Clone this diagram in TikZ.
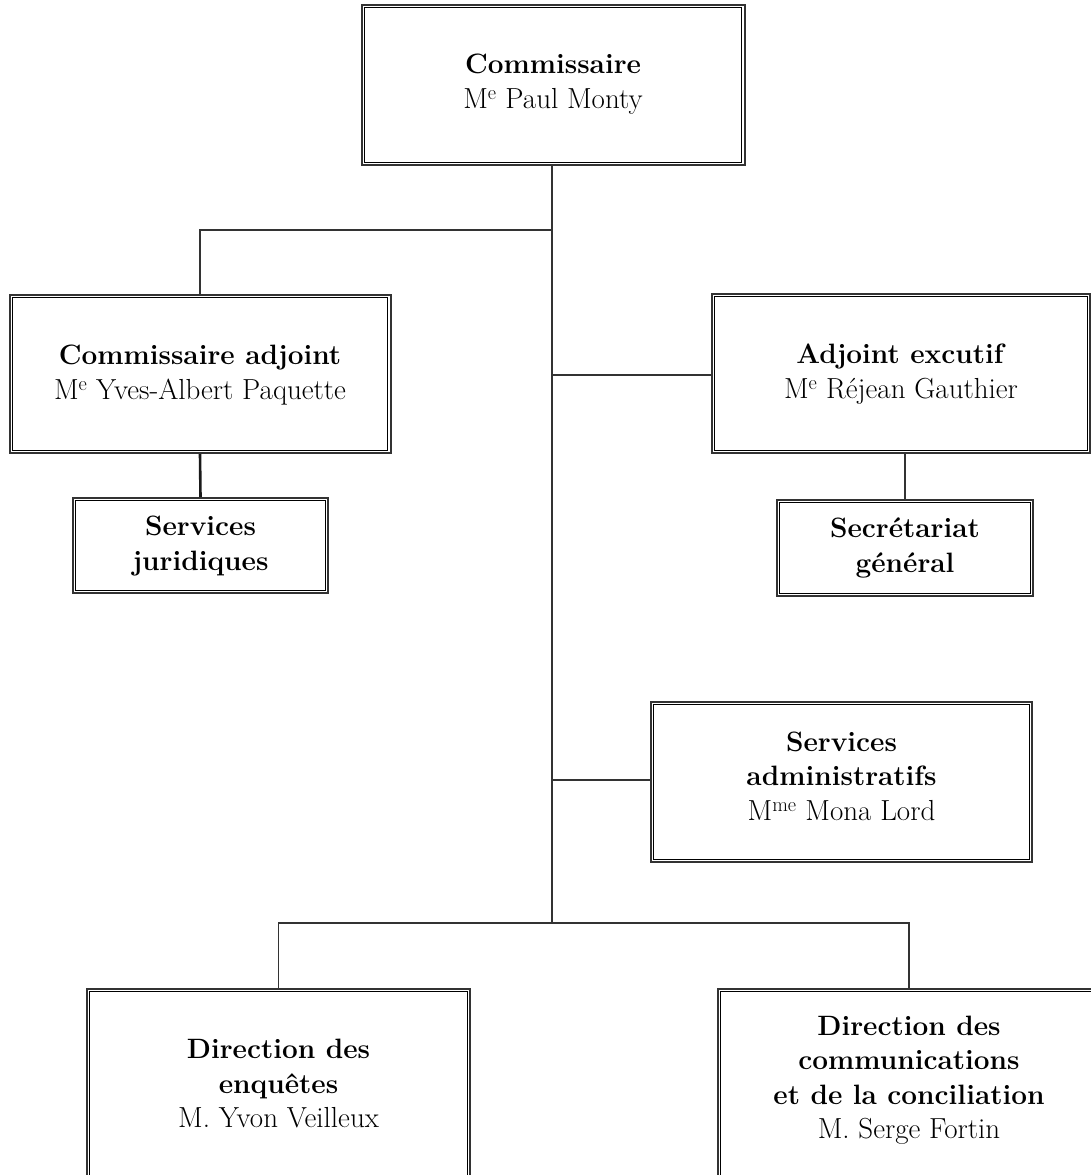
\documentclass[tikz,border=0pt]{standalone}
\usetikzlibrary{calc}
\tikzset{
  box/.style={draw=black!80, line width=2pt, inner sep=0pt, rectangle},
  innerbox/.style={draw=black, line width=0.9pt},
  txt/.style={align=center, inner sep=0pt, font=\fontsize{28}{34.5}\selectfont},
  conn/.style={draw=black!80, line width=1.3pt},
  thickconn/.style={draw=black!90, line width=2.6pt}
}
\newcommand{\rg}[1]{{\fontsize{29}{34.5}\selectfont #1}}
\begin{document}
\begin{tikzpicture}[x=1pt, y=-1pt]
\useasboundingbox (0,0) rectangle (1091,1175);
\fill[white] (0,0) rectangle (1091,1175);
\clip (0,0) rectangle (1091,1175);

% junction coordinates on the trunk
\coordinate (jA) at (552,230);
\coordinate (jB) at (552,375);
\coordinate (jC) at (552,780);
\coordinate (jD) at (552,923);

% boxes
\node[box, minimum width=383pt, minimum height=160pt] (top)  at (553,85) {};
\node[box, minimum width=381pt, minimum height=158pt] (adj)  at (200,374) {};
\node[box, minimum width=255pt, minimum height=95pt]  (jur)  at (200.5,545.5) {};
\node[box, minimum width=378pt, minimum height=159pt] (exec) at (901,373.5) {};
\node[box, minimum width=256pt, minimum height=96pt]  (sec)  at (905,548) {};
\node[box, minimum width=381pt, minimum height=160pt] (adm)  at (841.5,782) {};
\node[box, minimum width=383pt, minimum height=210pt] (enq)  at (278.5,1094) {};
\node[box, minimum width=382pt, minimum height=210pt] (comm) at (909,1094) {};

% inner lines of the double borders
\foreach \b in {top,adj,jur,exec,sec,adm,enq,comm}{
  \draw[innerbox] ([shift={(3.6pt,-3.6pt)}]\b.north west) rectangle ([shift={(-3.6pt,3.6pt)}]\b.south east);
}

% connectors
\draw[conn] (top.south -| jA) -- (jD);
\draw[conn] (jA) -| (adj.north);
\draw[conn] (jB) -- (jB -| exec.west);
\draw[conn] (jC) -- (jC -| adm.west);
\draw[conn] (jD) -| (enq.north);
\draw[conn] (jD) -| (comm.north);
\draw[thickconn] (adj.south) -- (jur.north);
\draw[conn] (sec.north) -- (sec.north |- exec.south);

% texts
\node[txt] (topT)  at (553,84)  {\textbf{Commissaire}\\\rg{M\textsuperscript{e} Paul Monty}};
\node[txt] (adjT)  at (200,375) {\textbf{Commissaire adjoint}\\\rg{M\textsuperscript{e} Yves-Albert Paquette}};
\node[txt] (jurT)  at (200.5,546) {\textbf{Services}\\\textbf{juridiques}};
\node[txt] (execT) at (901,374) {\textbf{Adjoint excutif}\\\rg{M\textsuperscript{e} Réjean Gauthier}};
\node[txt] (secT)  at (905,548) {\textbf{Secrétariat}\\\textbf{général}};
\node[txt] (admT)  at (841.5,776) {\textbf{Services}\\\textbf{administratifs}\\\rg{M\textsuperscript{me} Mona Lord}};
\node[txt] (enqT)  at (278.5,1084) {\textbf{Direction des}\\\textbf{enquêtes}\\\rg{M. Yvon Veilleux}};
\node[txt] (commT) at (909,1080) {\textbf{Direction des}\\\textbf{communications}\\\textbf{et de la conciliation}\\\rg{M. Serge Fortin}};
\end{tikzpicture}
\end{document}
